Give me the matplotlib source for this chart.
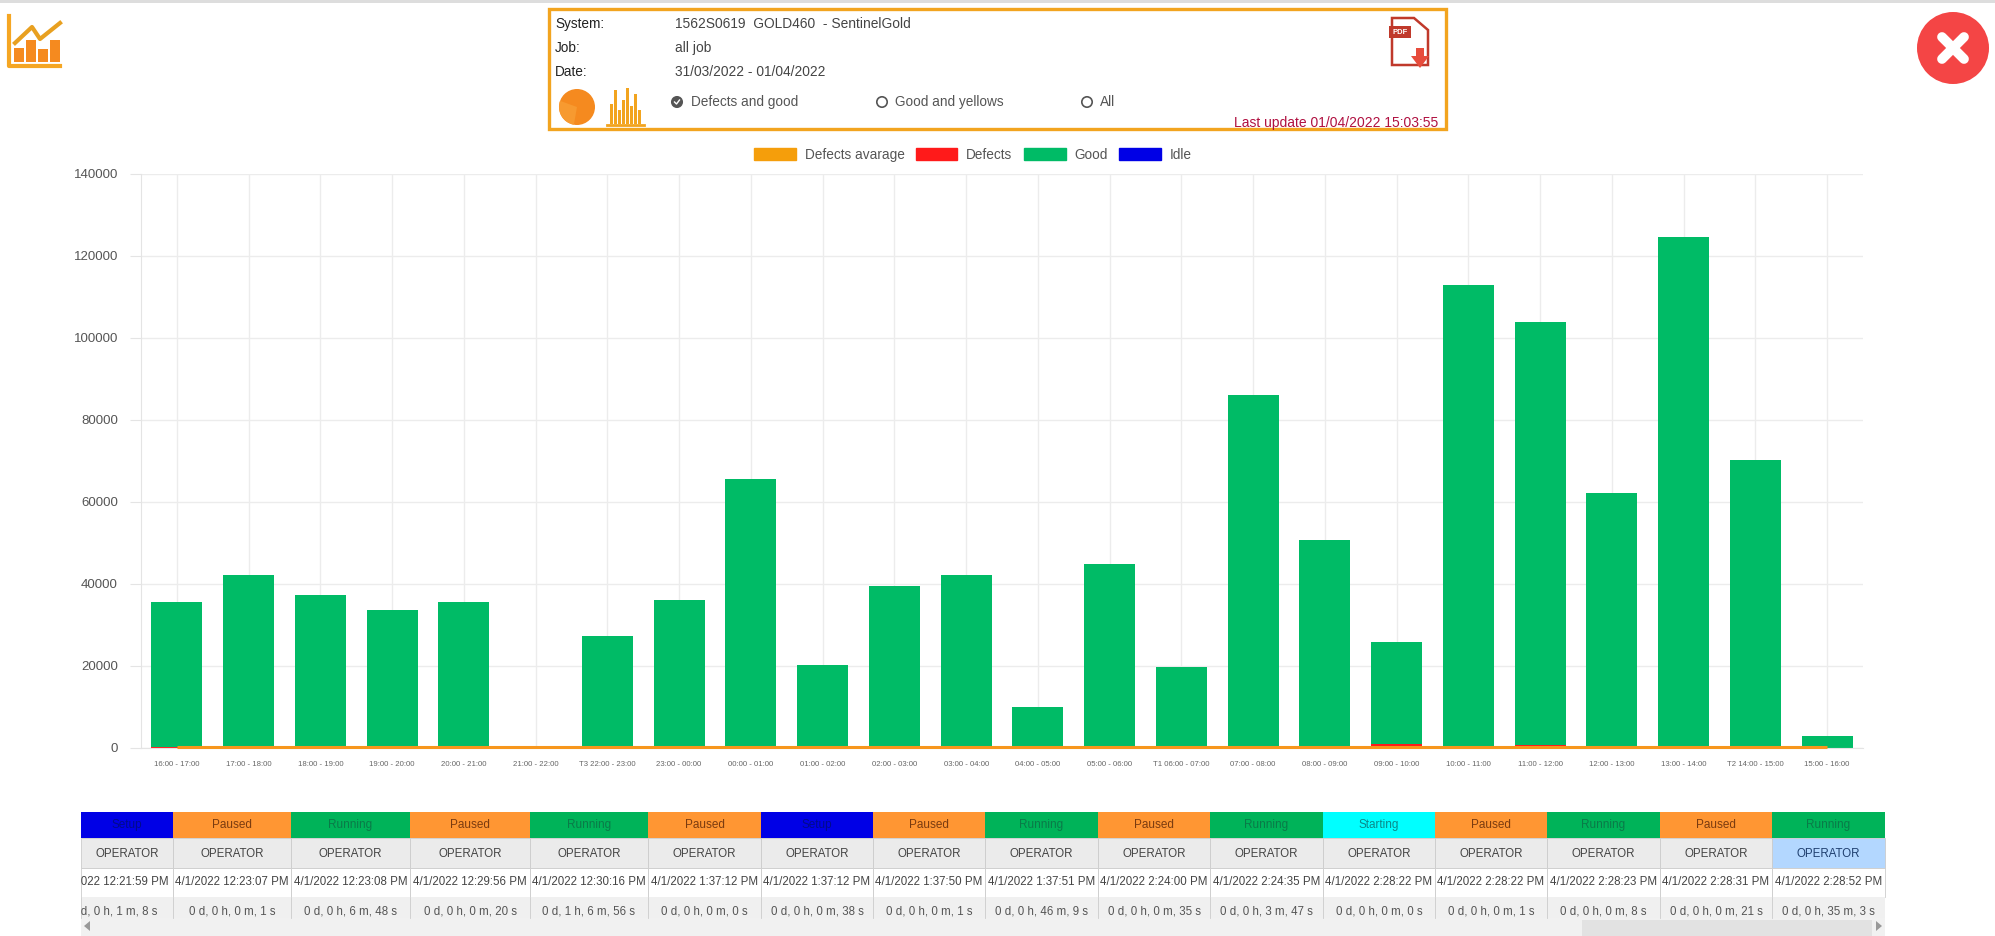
import matplotlib
matplotlib.use("Agg")
import matplotlib.pyplot as plt
from matplotlib.patches import Rectangle, Circle, Wedge, Polygon

plt.rcParams['font.family'] = ['Liberation Sans', 'DejaVu Sans']

# ---- data ----
hours = ["16:00 - 17:00", "17:00 - 18:00", "18:00 - 19:00", "19:00 - 20:00", "20:00 - 21:00",
         "21:00 - 22:00", "T3 22:00 - 23:00", "23:00 - 00:00", "00:00 - 01:00", "01:00 - 02:00",
         "02:00 - 03:00", "03:00 - 04:00", "04:00 - 05:00", "05:00 - 06:00", "T1 06:00 - 07:00",
         "07:00 - 08:00", "08:00 - 09:00", "09:00 - 10:00", "10:00 - 11:00", "11:00 - 12:00",
         "12:00 - 13:00", "13:00 - 14:00", "T2 14:00 - 15:00", "15:00 - 16:00"]
defects = [300, 400, 300, 300, 300, 0, 300, 300, 400, 300, 300, 300,
           200, 300, 200, 500, 400, 900, 500, 800, 500, 500, 400, 100]
good = [35400, 41900, 37000, 33400, 35200, 0, 27000, 35700, 65100, 19900, 39100, 41900,
        9800, 44700, 19600, 85500, 50300, 25000, 112500, 103200, 61800, 124200, 69900, 2800]
defects_avg = [300] * 24
idle = [0] * 24
y_ticks = [0, 20000, 40000, 60000, 80000, 100000, 120000, 140000]

status = ["Setup", "Paused", "Running", "Paused", "Running", "Paused", "Setup", "Paused", "Running",
          "Paused", "Running", "Starting", "Paused", "Running", "Paused", "Running"]
operator = ["OPERATOR"] * 16
start = ["4/1/2022 12:21:59 PM", "4/1/2022 12:23:07 PM", "4/1/2022 12:23:08 PM", "4/1/2022 12:29:56 PM",
         "4/1/2022 12:30:16 PM", "4/1/2022 1:37:12 PM", "4/1/2022 1:37:12 PM", "4/1/2022 1:37:50 PM",
         "4/1/2022 1:37:51 PM", "4/1/2022 2:24:00 PM", "4/1/2022 2:24:35 PM", "4/1/2022 2:28:22 PM",
         "4/1/2022 2:28:22 PM", "4/1/2022 2:28:23 PM", "4/1/2022 2:28:31 PM", "4/1/2022 2:28:52 PM"]
duration = ["0 d, 0 h, 1 m, 8 s", "0 d, 0 h, 0 m, 1 s", "0 d, 0 h, 6 m, 48 s", "0 d, 0 h, 0 m, 20 s",
            "0 d, 1 h, 6 m, 56 s", "0 d, 0 h, 0 m, 0 s", "0 d, 0 h, 0 m, 38 s", "0 d, 0 h, 0 m, 1 s",
            "0 d, 0 h, 46 m, 9 s", "0 d, 0 h, 0 m, 35 s", "0 d, 0 h, 3 m, 47 s", "0 d, 0 h, 0 m, 0 s",
            "0 d, 0 h, 0 m, 1 s", "0 d, 0 h, 0 m, 8 s", "0 d, 0 h, 0 m, 21 s", "0 d, 0 h, 35 m, 3 s"]

ORANGE = "#f59e0b"
GREEN = "#00bb66"
STATUS_COL = {"Setup": "#0000e6", "Paused": "#ff9633", "Running": "#00b359", "Starting": "#00ffff"}
STATUS_TXT = {"Setup": "#000a8c", "Paused": "#7a3b10", "Running": "#0a7a48", "Starting": "#0a8a8a"}

W, H = 1995, 936
fig = plt.figure(figsize=(W / 100, H / 100), dpi=100, facecolor="white")

# ---- main chart ----
L, R, T, B = 141, 1863, 174, 748
ax = fig.add_axes([L / W, 1 - B / H, (R - L) / W, (B - T) / H])
x = list(range(24))
bar_w = 0.71
ax.bar(x, defects, bar_w, color="#ff1a1a", zorder=2, label="Defects")
ax.bar(x, good, bar_w, bottom=defects, color=GREEN, zorder=2, label="Good")
ax.bar(x, idle, bar_w, color="#0000e6", zorder=2, label="Idle")
ax.plot(x, defects_avg, color="#f7961c", lw=2.2, zorder=3, solid_capstyle="butt", clip_on=False)
ax.set_xlim(-0.5, 23.5)
ax.set_ylim(0, 140000)
ax.set_yticks(y_ticks)
ax.set_xticks(x)
ax.set_xticklabels(hours, fontsize=5.6, color="#666666")
ax.tick_params(axis="x", length=0, pad=9.5)
ax.tick_params(axis="y", length=8, color="#e4e4e4", labelsize=9.5, labelcolor="#555555", pad=8.6)
ax.grid(True, color="#ececec", lw=1, zorder=0)
ax.set_axisbelow(True)
for s in ("top", "right"):
    ax.spines[s].set_visible(False)
for s in ("left", "bottom"):
    ax.spines[s].set_color("#e4e4e4")

handles = [Rectangle((0, 0), 1, 1, color=ORANGE), Rectangle((0, 0), 1, 1, color="#ff1a1a"),
           Rectangle((0, 0), 1, 1, color=GREEN), Rectangle((0, 0), 1, 1, color="#0000e6")]
fig.legend(handles, ["Defects avarage", "Defects", "Good", "Idle"], ncol=4, frameon=False,
           loc="center", bbox_to_anchor=(973 / W, 1 - 155 / H), fontsize=9.8, labelcolor="#555555",
           handlelength=3.05, handleheight=1.0, handletextpad=0.65, columnspacing=0.85)

# ---- overlay in pixel coordinates ----
ov = fig.add_axes([0, 0, 1, 1], zorder=5)
ov.set_xlim(0, W)
ov.set_ylim(H, 0)
ov.axis("off")
ov.patch.set_alpha(0)

ov.add_patch(Rectangle((0, 0), W, 3, color="#dddddd", lw=0))

# header box
ov.add_patch(Rectangle((549, 9), 897, 120, fc="none", ec="#f2a41f", lw=2.4))
for txt, y in [("System:", 24), ("Job:", 48), ("Date:", 71.5)]:
    ov.text(555, y, txt, fontsize=9.8, color="#222222", va="center", ha="left")
for txt, y in [("1562S0619  GOLD460  - SentinelGold", 24), ("all job", 48), ("31/03/2022 - 01/04/2022", 71.5)]:
    ov.text(675, y, txt, fontsize=9.9, color="#444444", va="center")
for txt, cx, tx, chk in [("Defects and good", 677, 691, True), ("Good and yellows", 882, 895, False), ("All", 1087, 1100, False)]:
    ov.add_patch(Circle((cx, 102), 5.2, fc="#555555" if chk else "white", ec="#555555", lw=1.2))
    if chk:
        ov.plot([cx - 2.5, cx - 0.5, cx + 2.5], [102, 104, 100], color="white", lw=1)
    ov.text(tx, 102, txt, fontsize=9.8, color="#555555", va="center")
ov.text(1438, 123, "Last update 01/04/2022 15:03:55", fontsize=10, color="#b01040", va="center", ha="right")

# pie icon
ov.add_patch(Circle((577, 107), 18, fc="#f58a1f", ec="none"))
ov.add_patch(Wedge((577, 107), 18, 100, 200, fc="#f79a30", ec="none"))
# small bars icon
for bx, bh in zip(range(610, 642, 4), [20, 34, 14, 24, 36, 18, 30, 14]):
    ov.add_patch(Rectangle((bx, 124 - bh), 3, bh, fc="#f2a41f", ec="none"))
ov.plot([607, 644], [125, 125], color="#f2a41f", lw=2)

# pdf icon
ov.add_patch(Polygon([(1392, 18), (1414, 18), (1428, 30), (1428, 65), (1392, 65)], fc="white", ec="#c0392b", lw=1.8))
ov.add_patch(Rectangle((1389, 26), 22, 12, fc="#c0392b", ec="none"))
ov.text(1400, 32, "PDF", fontsize=5.5, color="white", ha="center", va="center", fontweight="bold")
ov.add_patch(Polygon([(1416, 48), (1424, 48), (1424, 56), (1429, 56), (1420, 68), (1411, 56), (1416, 56)], fc="#e74c3c", ec="none"))

# top-left icon
ov.plot([9, 9, 60], [16, 66, 66], color="#f5a623", lw=3)
for bx, bt in zip([14, 26, 38, 50], [48, 40, 49, 40]):
    ov.add_patch(Rectangle((bx, bt), 9.5, 62 - bt, fc="#f58a1f", ec="none"))
ov.plot([15, 32, 40, 60], [43, 27, 39, 23], color="#e8a020", lw=3)

# close icon
ov.add_patch(Circle((1953, 48), 36, fc="#f44545", ec="none"))
ov.plot([1942, 1964], [37, 59], color="white", lw=7, solid_capstyle="round")
ov.plot([1942, 1964], [59, 37], color="white", lw=7, solid_capstyle="round")

# ---- status table ----
edges = [81, 173, 291, 410, 530, 648, 761, 873, 985, 1098, 1210, 1323, 1435, 1547, 1660, 1772, 1885]
rows = [812, 838, 868, 897, 918]
ov.add_patch(Rectangle((81, 918), 1804, 18, fc="#f1f1f1", ec="none"))
ov.add_patch(Rectangle((1582, 920), 290, 16, fc="#e2e2e2", ec="none"))
ov.add_patch(Polygon([(90, 921), (90, 931), (84, 926)], fc="#999999", ec="none"))
ov.add_patch(Polygon([(1876, 921), (1876, 931), (1882, 926)], fc="#999999", ec="none"))
for i in range(16):
    x0, x1 = edges[i], edges[i + 1]
    cx = (x0 + x1) / 2
    st = status[i]
    ov.add_patch(Rectangle((x0, rows[0]), x1 - x0, rows[1] - rows[0], fc=STATUS_COL[st], ec="none"))
    ov.text(cx, (rows[0] + rows[1]) / 2, st, fontsize=8.5, color=STATUS_TXT[st], ha="center", va="center")
    fc = "#b3d7ff" if i == 15 else "#ebebeb"
    ov.add_patch(Rectangle((x0, rows[1]), x1 - x0, rows[2] - rows[1], fc=fc, ec="#cccccc", lw=0.6))
    ov.text(cx, 854, operator[i], fontsize=8.3, color="#1f3f6f" if i == 15 else "#444444", ha="center", va="center")
    ov.add_patch(Rectangle((x0, rows[2]), x1 - x0, rows[3] - rows[2], fc="white", ec="#cccccc", lw=0.6))
    ov.add_patch(Rectangle((x0, rows[3]), x1 - x0, rows[4] - rows[3], fc="#f0f0f0", ec="none"))
    ov.plot([x0, x0], [rows[3], rows[4]], color="#cccccc", lw=0.6)

    first = i == 0
    t = ov.text(x1 - 4 if first else cx, 882, start[i], fontsize=8.3, color="#444444",
                ha="right" if first else "center", va="center")
    d = ov.text(x1 - 16 if first else cx, 911, duration[i], fontsize=8.3, color="#555555",
                ha="right" if first else "center", va="center")
    if first:
        t.set_clip_on(True)
        t.set_clip_path(Rectangle((x0, rows[2]), x1 - x0, rows[3] - rows[2], transform=ov.transData))
        d.set_clip_on(True)
        d.set_clip_path(Rectangle((x0, rows[3]), x1 - x0, rows[4] - rows[3], transform=ov.transData))

fig.savefig("out.png", dpi=100)
